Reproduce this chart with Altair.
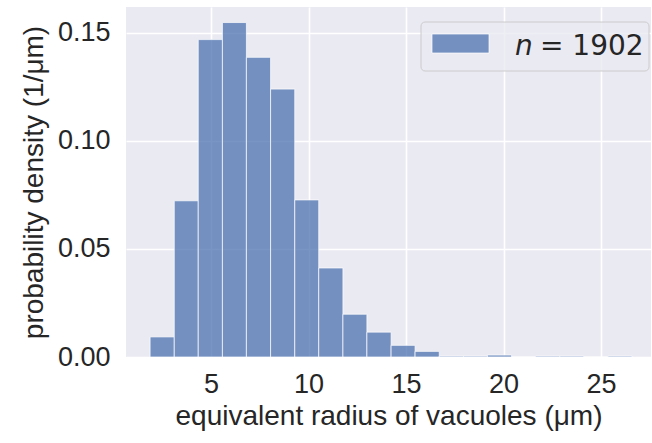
import altair as alt
import pandas as pd

# Histogram bins (left edges, um) and probability densities (1/um)
bin_left = [1.87, 3.11, 4.34, 5.58, 6.81, 8.05, 9.29, 10.52, 11.76, 12.99,
            14.23, 15.46, 16.70, 17.94, 19.17, 20.41, 21.64, 22.88, 24.11, 25.35]
bin_right = [3.11, 4.34, 5.58, 6.81, 8.05, 9.29, 10.52, 11.76, 12.99, 14.23,
             15.46, 16.70, 17.94, 19.17, 20.41, 21.64, 22.88, 24.11, 25.35, 26.58]
density = [0.0093, 0.0723, 0.1469, 0.1548, 0.1387, 0.1240, 0.0727, 0.0412, 0.0198, 0.0115,
           0.0054, 0.0026, 0.0004, 0.0004, 0.0009, 0.0, 0.0004, 0.0004, 0.0, 0.0004]

x_ticks = [5, 10, 15, 20, 25]
y_ticks = [0.0, 0.05, 0.10, 0.15]
legend_n = "n"
legend_rest = "= 1902"

df = pd.DataFrame({"x0": bin_left, "x1": bin_right, "d": density})
one = pd.DataFrame({"k": [0]})

TEXT = "#262626"

bars = alt.Chart(df).mark_rect(
    fill="#4c72b0", fillOpacity=0.75, stroke="#ffffff", strokeWidth=1, strokeOpacity=0.7
).encode(
    x=alt.X("x0:Q", scale=alt.Scale(domain=[0.635, 27.56], nice=False, zero=False),
            axis=alt.Axis(values=x_ticks, title="equivalent radius of vacuoles (μm)",
                          format="d")),
    x2="x1:Q",
    y=alt.Y("d:Q", scale=alt.Scale(domain=[0, 0.162], nice=False),
            axis=alt.Axis(values=y_ticks, format=".2f", title="probability density (1/μm)")),
    y2=alt.datum(0),
)

legend_box = alt.Chart(one).mark_rect(
    fill="#eaeaf2", fillOpacity=0.8, stroke="#cccccc", strokeWidth=1, cornerRadius=4
).encode(x=alt.value(295), x2=alt.value(523), y=alt.value(15), y2=alt.value(64))

legend_swatch = alt.Chart(one).mark_rect(
    fill="#4c72b0", fillOpacity=0.75, stroke="#ffffff", strokeWidth=1, strokeOpacity=0.7
).encode(x=alt.value(306), x2=alt.value(363), y=alt.value(27), y2=alt.value(46))

legend_n_txt = alt.Chart(one).mark_text(
    text=legend_n, font="DejaVu Sans", fontStyle="italic", fontSize=28,
    align="left", baseline="alphabetic", color=TEXT
).encode(x=alt.value(389), y=alt.value(48))

legend_rest_txt = alt.Chart(one).mark_text(
    text=legend_rest, font="DejaVu Sans", fontSize=28,
    align="left", baseline="alphabetic", color=TEXT
).encode(x=alt.value(414), y=alt.value(48))

chart = alt.layer(bars, legend_box, legend_swatch, legend_n_txt, legend_rest_txt).properties(
    width=525, height=350,
    autosize=alt.AutoSizeParams(type="none"),
    padding={"left": 126, "top": 7, "right": 1, "bottom": 86},
    background="#ffffff",
).configure_view(
    fill="#eaeaf2", stroke=None
).configure_axis(
    grid=True, gridColor="#ffffff", gridWidth=1.6, domain=False, ticks=False,
    labelFont="Liberation Sans", labelFontSize=27, labelColor=TEXT,
    titleFont="Liberation Sans", titleFontSize=28, titleColor=TEXT, titleFontWeight="normal",
).configure_axisX(
    labelPadding=14, titlePadding=5
).configure_axisY(
    labelPadding=16, titlePadding=9
)

chart.save("out.html", embed_options={"renderer": "svg", "actions": False})
